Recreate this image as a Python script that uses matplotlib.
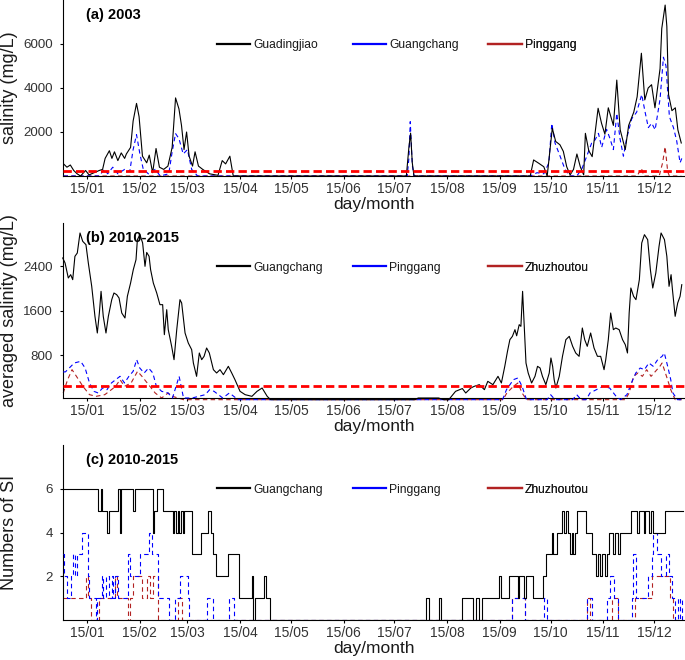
import matplotlib
matplotlib.use('Agg')
import matplotlib.pyplot as plt
from matplotlib.lines import Line2D

plt.rcParams['font.family'] = ['Liberation Sans', 'DejaVu Sans']

# ---------------- data ----------------
month_ticks = [15, 46, 74, 105, 135, 166, 196, 227, 258, 288, 319, 349]
month_labels = ['15/01', '15/02', '15/03', '15/04', '15/05', '15/06',
                '15/07', '15/08', '15/09', '15/10', '15/11', '15/12']
threshold = 250

# (a) 2003 daily salinity (day of year, mg/L)
a_guadingjiao = [(1,550),(3,400),(5,500),(7,250),(9,100),(11,0),(14,250),(16,50),(19,150),(22,250),
    (24,300),(25.5,800),(28,1150),(29.5,800),(31,1100),(33,700),(35,1050),(37,800),(38,1000),(40.5,1300),
    (42,2500),(44,3300),(45.5,2700),(47.5,900),(50,600),(51.5,950),(53.5,150),(55.5,1250),(57.5,400),
    (60,300),(62.5,450),(65,1300),(67,3550),(69,3050),(70.5,2300),(72,1200),(73.5,2000),(75,900),
    (77,450),(78.5,1100),(80.5,450),(83,300),(87,100),(92,30),(94.5,700),(96.5,550),(99,900),(101,0),
    (203,0),(204.5,1300),(205.5,1950),(206.5,600),(207.5,0),(276,0),(278,730),(281,580),(284,420),
    (286,0),(289,2170),(291,1570),(293.5,1420),(295.5,1120),(297.5,420),(299.5,50),(301.5,300),
    (303.5,1000),(305.5,420),(307.5,50),(308.5,1940),(310.5,1150),(312.5,880),(316,3080),(318,2400),
    (320,1900),(322,3100),(325,2300),(327,4360),(329,2100),(332,1200),(334,2300),(337,2900),(339,3600),
    (341.5,5580),(343.5,3460),(345.5,4000),(347.5,4150),(349.5,3100),(352.5,4880),(353.5,6700),
    (355.5,7770),(356.5,6800),(357.5,3700),(359.5,2970),(361.5,3100),(363,2100),(365,1500)]
a_guangchang = [(1,0),(22,0),(25,300),(27,100),(30,400),(33,100),(37,300),(40,200),(42,1200),(44,1880),
    (46,1000),(48,300),(51,100),(55,300),(58,0),(63,100),(65,1100),(67,1930),(69,1700),(71.5,1000),
    (74,1200),(76.5,300),(80,0),(203.5,0),(204.5,800),(205.3,2470),(206.5,500),(207.5,0),(276,0),
    (280,150),(284,100),(287,600),(288.7,2390),(290.6,1500),(293.6,900),(296.5,300),(299.5,0),
    (303.4,0),(306.3,300),(309.3,900),(312.2,1500),(314.2,1640),(316.2,1940),(318.1,1300),(321,2120),
    (323,1700),(325,1200),(327,2850),(328.9,1700),(330.9,900),(332.8,1700),(335.8,2600),(338.7,2900),
    (341.7,3700),(343.7,2900),(345.6,2200),(347.6,2400),(349.6,2100),(352.5,3500),(354.5,5400),
    (356,5000),(358,2700),(360.4,2200),(362.3,1600),(364.3,600),(365.3,800)]
a_pinggang = [(1,0),(339,0),(341.5,350),(343,0),(352,0),(354,600),(355.5,1330),(357,200),(358,0),(365,0)]

# (b) 2010-2015 averaged salinity (mg/L)
b_guangchang = [(0.5,2550),(1.9,2460),(3.8,2190),(5.2,2250),(6.4,2160),(7.7,2580),(9.1,2640),(10.7,3000),
    (12.3,2850),(14.2,2790),(15.6,2460),(17.6,2040),(19.5,1500),(20.9,1200),(22.1,1560),(23.1,1950),
    (24.4,1500),(26,1200),(27.4,1500),(29.4,1800),(30.7,1920),(32.3,1890),(33.7,1830),(35.3,1560),
    (37.2,1470),(38.6,1860),(40.5,2100),(42.1,2340),(43.7,2520),(44.5,2880),(46,2970),(47.6,2820),
    (49,2400),(50,2650),(51.4,2580),(52.3,2340),(53.9,2100),(55.9,1920),(57.8,1710),(59.4,1710),
    (60.4,1170),(61.8,1620),(62.7,1260),(64.7,960),(66.1,720),(67.7,1260),(69.6,1800),(70.6,1740),
    (72.6,1200),(74.5,1020),(76.5,900),(77.5,660),(79.4,420),(81,840),(82.4,720),(83.8,780),(85.3,930),
    (86.9,840),(89.3,540),(91.2,480),(93.2,540),(95.2,450),(98.1,600),(100.1,480),(102,360),(105,150),
    (108,90),(112,60),(115,150),(118,210),(121,60),(123,0),(208,0),(210,30),(222,30),(225,0),(228,0),
    (232,150),(236,200),(238,120),(241,210),(243,240),(246,270),(249,180),(251,330),(254,270),(257,420),
    (259,300),(261,600),(262.6,870),(264,1080),(265.5,1140),(267,1260),(268,1150),(269.5,1350),
    (270.5,1320),(271.5,1950),(272.5,1300),(273.5,660),(274.8,480),(276.8,300),(278.8,420),(280.3,600),
    (281.8,570),(283.2,420),(285.2,270),(287.2,480),(288.2,750),(289.2,600),(290.1,360),(291.1,210),
    (293.1,420),(295,780),(297,1080),(299,1140),(301,960),(302.8,840),(304.8,780),(306.7,1290),
    (308.1,1080),(309.6,960),(311.6,1200),(313.6,930),(315.6,780),(317.5,780),(319.5,540),(320.5,720),
    (322,1080),(323.4,1560),(325,1260),(326.4,1290),(328.4,1260),(330.4,1080),(332,990),(333.3,840),
    (334.3,1560),(335.3,2010),(336.9,1860),(338.3,1800),(340.3,2160),(341.7,2820),(343.3,2970),
    (345.2,2880),(346.8,2340),(348.2,2010),(350,2280),(351.9,2760),(353.1,3000),(355.1,2880),
    (356.5,2580),(357.8,2040),(359,2250),(359.8,1980),(361.4,1500),(362.9,1740),(364.3,1860),(365.3,2070)]
b_pinggang = [(0.8,500),(2.1,500),(7.3,660),(11.1,690),(13.7,570),(16.3,300),(18.9,150),(21.4,120),
    (24,210),(26.6,180),(29.2,300),(31.7,360),(34.3,420),(36.9,300),(39.5,420),(42,510),(44.1,720),
    (45.9,570),(48.5,480),(51.1,570),(53.6,480),(55.7,240),(58.8,150),(62.6,120),(65.2,30),(69.1,420),
    (71.7,30),(76.8,30),(84.5,90),(87.1,180),(89.7,150),(94.8,30),(98.7,120),(101.3,60),(103.8,0),
    (259.7,0),(262,180),(266.1,360),(268.7,390),(271.2,240),(273.8,0),(286,0),(288,90),(290.6,0),
    (301,0),(303.4,90),(306,0),(309,0),(311.2,120),(315,180),(318.9,240),(322.8,210),(326.6,60),
    (329.2,0),(333,90),(335.6,300),(338.2,480),(340.8,570),(343.3,540),(345.9,660),(348.5,600),
    (351.1,720),(353.7,780),(355,840),(357,600),(358.8,360),(360.1,120),(362.7,0),(365.3,0)]
b_zhuzhoutou = [(0.8,120),(3.4,360),(6,540),(8.6,420),(12.4,240),(16.3,90),(20.2,60),(25.3,90),
    (29.2,180),(31.7,240),(34.3,360),(36.9,240),(40.8,300),(44.6,510),(47.2,420),(51.1,270),(55,120),
    (58.8,30),(62.6,120),(65.2,60),(71.7,0),(260,0),(262.2,120),(266.1,240),(268.7,300),(271.2,120),
    (273.8,0),(332,0),(334.3,120),(336.9,420),(339.5,480),(342.1,420),(344.6,540),(347.2,420),
    (349.8,510),(352.4,600),(353.7,660),(356.3,420),(358.8,180),(361.4,0),(365.3,0)]

# (c) 2010-2015 numbers of saltwater intrusion (step changes: day, count)
c_guangchang = [(0.5,6),(21.5,5),(22.9,6),(23.9,5),(26.4,4),(27.8,5),(32.9,6),(34.3,4),(35,6),(41.7,5),
    (42.9,6),(53.5,4),(54.5,5),(55.9,6),(59.8,5),(65.3,4),(66.1,5),(67.3,4),(68.2,5),(69.2,4),(70.2,5),
    (71.2,4),(72,5),(76.5,3),(82,4),(86.3,5),(87.7,4),(89.3,3),(90.8,2),(97.7,3),(104.6,1),(112,2),
    (112.8,0),(114,1),(119,2),(120.5,1),(122.4,0),(214.8,1),(216.5,0),(222,1),(223.5,0),(236,1),
    (242.5,0),(243.9,1),(245.8,0),(247.4,1),(257.6,2),(258.6,1),(263.7,2),(268.6,1),(269.4,2),(272.4,1),
    (273.3,2),(277.5,1),(283.6,2),(285.1,3),(288.7,4),(289.6,3),(291.6,4),(294.6,5),(295.7,4),(297.1,5),
    (298.1,4),(299.5,3),(300.4,4),(301.4,3),(302.4,4),(303.6,5),(308.7,4),(312.6,3),(314.6,2),(315.8,3),
    (317,2),(318.1,3),(320.1,2),(321.1,3),(322.6,4),(325,3),(326,4),(327.9,3),(328.9,4),(335.4,5),
    (339.1,4),(339.9,5),(343.1,4),(343.9,5),(346,4),(347,5),(348.6,4),(355.4,5),(366,5)]
c_pinggang = [(0.5,3),(1.5,2),(2.8,1),(5.4,2),(6.8,3),(8,2),(9,3),(10.3,3),(11.7,4),(15.6,2),(16.2,1),
    (20.1,0),(20.5,1),(23.5,2),(24.1,1),(26,2),(28,1),(29.4,2),(30.3,1),(31.3,2),(33.3,1),(39.2,3),
    (40.2,2),(46.1,3),(51.5,4),(52.9,3),(56.9,1),(63.3,0),(66.7,1),(69.6,2),(74.1,1),(74.9,0),(85.3,1),
    (89.3,0),(98.7,1),(101.3,0),(265.1,1),(273,0),(284.3,1),(285.9,0),(309.3,1),(312.6,0),(321.1,1),
    (323,2),(325.6,1),(328,0),(335.8,1),(336.8,3),(338.4,1),(340.7,1),(345.2,2),(347.6,3),(348.6,4),
    (350.5,3),(353.1,2),(355.8,3),(357.8,2),(359.4,1),(361.3,0),(362.9,1),(364.3,0),(365.3,1),(366,1)]
c_zhuzhoutou = [(0.5,1),(14.2,2),(15.6,1),(17,0),(22.1,1),(31.3,2),(32.3,1),(39.2,0),(40.2,1),(42,2),
    (47,1),(50,2),(52,1),(54,2),(56.5,0),(68.6,1),(70.6,0),(265.1,1),(273,0),(309.3,1),(311.3,0),
    (324,1),(328,0),(337.8,1),(347.6,2),(358.4,1),(360.4,0),(366,0)]

# ---------------- styles ----------------
C_BLACK = '#000000'
C_BLUE = '#0000FF'
C_BROWN = '#B22222'
DASH = (0, (4, 3))

fig = plt.figure(figsize=(6.85, 6.6), dpi=100)
left = 62.7 / 685
width = 1 - left
ax_a = fig.add_axes([left, 484 / 660, width, 176 / 660])
ax_b = fig.add_axes([left, 262 / 660, width, 175 / 660])
ax_c = fig.add_axes([left, 40 / 660, width, 175 / 660])


def xy(pairs):
    return [p[0] for p in pairs], [p[1] for p in pairs]


def style_axes(ax, ylabel, yticks):
    for s in ('top', 'right'):
        ax.spines[s].set_visible(False)
    for s in ('left', 'bottom'):
        ax.spines[s].set_color('#000000')
        ax.spines[s].set_linewidth(0.8)
    ax.set_xlim(0.5, 367.2)
    ax.set_xticks(month_ticks)
    ax.set_xticklabels(month_labels)
    ax.set_yticks(yticks)
    ax.tick_params(axis='x', length=2.5, width=0.8, pad=1.5, labelsize=10, colors='#000000',
                   labelcolor='#333333')
    ax.tick_params(axis='y', length=2.5, width=0.8, pad=4.5, labelsize=9.6, colors='#000000',
                   labelcolor='#333333')
    ax.set_xlabel('day/month', fontsize=12.5, color='#1a1a1a')
    ax.xaxis.set_label_coords(0.5, -0.122)
    ax.set_ylabel(ylabel, fontsize=13, color='#1a1a1a')
    ax.yaxis.set_label_coords(-0.072, 0.5)


def add_legend(ax, names, colors):
    xs = [0.248, 0.4665, 0.684]
    for name, col, x0 in zip(names, colors, xs):
        h = Line2D([], [], color=col, lw=1.6)
        leg = ax.legend(handles=[h], labels=[name], loc='center left',
                        bbox_to_anchor=(x0, 0.745), frameon=False, borderpad=0,
                        borderaxespad=0, handlelength=2.75, handletextpad=0.25,
                        fontsize=8.7)
        for t in leg.get_texts():
            t.set_color('#1a1a1a')
        ax.add_artist(leg)


def thresh(ax):
    ax.axhline(threshold, color='#FF0000', lw=2.0, ls=(0, (3, 1.5)), zorder=5)


# (a)
style_axes(ax_a, 'salinity (mg/L)', [2000, 4000, 6000])
ax_a.set_ylim(0, 8000)
x, y = xy(a_pinggang)
ax_a.plot(x, y, color=C_BROWN, lw=0.8, ls=DASH, zorder=2)
x, y = xy(a_guangchang)
ax_a.plot(x, y, color=C_BLUE, lw=0.8, ls=DASH, zorder=3)
x, y = xy(a_guadingjiao)
ax_a.plot(x, y, color=C_BLACK, lw=0.8, zorder=4)
thresh(ax_a)
ax_a.text(0.0374, 0.912, '(a) 2003', transform=ax_a.transAxes, fontsize=10.5,
          fontweight='bold', va='center', ha='left')
add_legend(ax_a, ['Guadingjiao', 'Guangchang', 'Pinggang'], [C_BLACK, C_BLUE, C_BROWN])

# (b)
style_axes(ax_b, 'averaged salinity (mg/L)', [800, 1600, 2400])
ax_b.set_ylim(30, 3180)
x, y = xy(b_zhuzhoutou)
ax_b.plot(x, y, color=C_BROWN, lw=0.8, ls=DASH, zorder=2, clip_on=False)
x, y = xy(b_pinggang)
ax_b.plot(x, y, color=C_BLUE, lw=0.8, ls=DASH, zorder=3, clip_on=False)
x, y = xy(b_guangchang)
ax_b.plot(x, y, color=C_BLACK, lw=0.8, zorder=4, clip_on=False)
thresh(ax_b)
ax_b.text(0.0374, 0.912, '(b) 2010-2015', transform=ax_b.transAxes, fontsize=10.5,
          fontweight='bold', va='center', ha='left')
add_legend(ax_b, ['Guangchang', 'Pinggang', 'Zhuzhoutou'], [C_BLACK, C_BLUE, C_BROWN])

# (c)
style_axes(ax_c, 'Numbers of SI', [2, 4, 6])
ax_c.set_ylim(0, 8)
x, y = xy(c_zhuzhoutou)
ax_c.plot(x, y, color=C_BROWN, lw=0.8, ls=DASH, drawstyle='steps-post', zorder=2)
x, y = xy(c_pinggang)
ax_c.plot(x, y, color=C_BLUE, lw=0.8, ls=DASH, drawstyle='steps-post', zorder=3)
x, y = xy(c_guangchang)
ax_c.plot(x, y, color=C_BLACK, lw=0.8, drawstyle='steps-post', zorder=4)
ax_c.text(0.0374, 0.912, '(c) 2010-2015', transform=ax_c.transAxes, fontsize=10.5,
          fontweight='bold', va='center', ha='left')
add_legend(ax_c, ['Guangchang', 'Pinggang', 'Zhuzhoutou'], [C_BLACK, C_BLUE, C_BROWN])

fig.savefig('out.png', dpi=100)
